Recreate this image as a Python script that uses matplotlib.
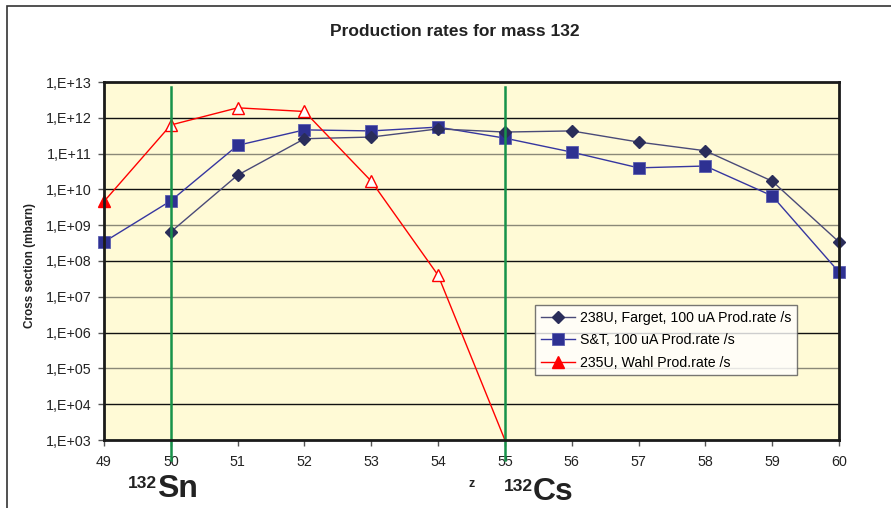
import matplotlib
matplotlib.use('Agg')
import matplotlib.pyplot as plt
from matplotlib.ticker import FuncFormatter, FixedLocator, NullLocator
import numpy as np

plt.rcParams['font.family'] = ['Liberation Sans', 'DejaVu Sans']

# Data (Z vs production rate)
z = [49, 50, 51, 52, 53, 54, 55, 56, 57, 58, 59, 60]
farget_z = [50, 51, 52, 53, 54, 55, 56, 57, 58, 59, 60]
farget = [6.5e8, 2.5e10, 2.6e11, 2.9e11, 4.9e11, 4.0e11, 4.3e11, 2.1e11, 1.2e11, 1.7e10, 3.4e8]
st = [3.4e8, 4.8e9, 1.7e11, 4.6e11, 4.3e11, 5.5e11, 2.7e11, 1.1e11, 4.0e10, 4.5e10, 6.6e9, 4.9e7]
wahl_z = [49, 50, 51, 52, 53, 54, 55]
wahl = [4.6e9, 6.3e11, 1.9e12, 1.5e12, 1.7e10, 4.0e7, 1.0e3]
isotopes = [(50, '132', 'Sn'), (55, '132', 'Cs')]

W, H = 891, 508
fig = plt.figure(figsize=(W / 100, H / 100), dpi=100)
ax = fig.add_axes([104 / W, 1 - 440 / H, (839 - 104) / W, (440 - 82) / H])
ax.set_facecolor('#fffad6')

# outer chart frame
fig.patches.append(plt.Rectangle((7 / W, -0.1), 1.2, 1 - 6 / H + 0.1,
                                 transform=fig.transFigure, fill=False,
                                 edgecolor='#333333', lw=1.2))

ax.set_yscale('log')
ax.set_ylim(1e3, 1e13)
ax.set_xlim(49, 60)

# horizontal gridlines, alternating dark / grey like the original
decades = [10.0 ** k for k in range(4, 13)]
for i, d in enumerate(decades):
    ax.axhline(d, color='#111111' if i % 2 == 0 else '#8a8878', lw=1.0, zorder=1)

ax.plot(farget_z, farget, color='#4a4a78', lw=1.0, marker='D', ms=6.5,
        mfc='#2a2d5a', mec='#2a2d5a', zorder=4, clip_on=False,
        label='238U, Farget, 100 uA Prod.rate /s')
ax.plot(z, st, color='#3636a0', lw=1.0, marker='s', ms=9,
        mfc='#2e3192', mec='#5a5cb0', mew=0.6, zorder=3, clip_on=False,
        label='S&T, 100 uA Prod.rate /s')
ax.plot(wahl_z, wahl, color='#ff0000', lw=1.0, marker='^', ms=9,
        mfc='#ff0000', mec='#ff0000', markevery=[0], zorder=5, clip_on=False,
        label='235U, Wahl Prod.rate /s')
ax.plot(wahl_z[1:6], wahl[1:6], ls='none', marker='^', ms=9,
        mfc='white', mec='#ff0000', mew=1.0, zorder=5)

# isotope marker lines
for zz, mass, el in isotopes:
    ax.plot([zz, zz], [-0.056, 0.986], transform=ax.get_xaxis_transform(),
            color='#17924a', lw=1.8, clip_on=False, zorder=6)

ax.yaxis.set_major_locator(FixedLocator([10.0 ** k for k in range(3, 14)]))
ax.yaxis.set_minor_locator(NullLocator())
ax.yaxis.set_major_formatter(FuncFormatter(lambda v, p: '1,E+%02d' % round(np.log10(v))))
ax.set_xticks(z)
ax.tick_params(axis='both', direction='out', length=4, width=1, color='#555555',
               labelsize=10.3, labelcolor='#222222', pad=5)
ax.tick_params(axis='x', pad=7)
for s in ax.spines.values():
    s.set_linewidth(2)
    s.set_color('#1a1a1a')
    s.set_zorder(7)

fig.text(455 / W, 1 - 32 / H, 'Production rates for mass 132', ha='center',
         va='center', fontsize=12.5, fontweight='bold', color='#222222')
fig.text(30 / W, 1 - 266 / H, 'Cross section (mbarn)', rotation=90, ha='center',
         va='center', fontsize=8.5, fontweight='bold', color='#222222')
fig.text(472 / W, 1 - 484 / H, 'z', ha='center', va='center', fontsize=9,
         fontweight='bold', color='#222222')

for (zz, mass, el), xpix, base in zip(isotopes, [157, 533], [497, 500]):
    fig.text(xpix / W, 1 - base / H, el, ha='left', va='baseline', fontsize=23,
             fontweight='bold', color='#222222')
    fig.text(xpix / W, 1 - (base - 9) / H, mass, ha='right', va='baseline',
             fontsize=12.5, fontweight='bold', color='#222222')

leg = ax.legend(loc='upper left', bbox_to_anchor=((535 - 104) / 735, (440 - 305) / 358),
                fontsize=10.2, frameon=True, fancybox=False, edgecolor='#555555',
                handlelength=2.4, borderpad=0.4, labelspacing=0.6,
                handletextpad=0.35, borderaxespad=0)
leg.get_frame().set_linewidth(1.0)
leg.set_zorder(8)

fig.savefig('out.png', dpi=100)
